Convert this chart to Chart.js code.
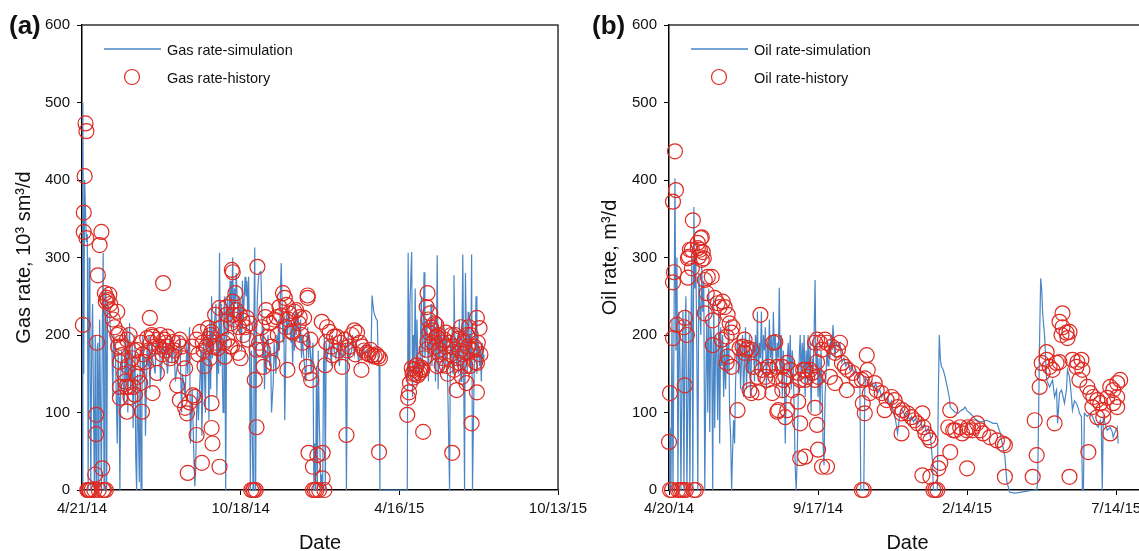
<!DOCTYPE html>
<html>
<head>
<meta charset="utf-8">
<script src="https://cdn.jsdelivr.net/npm/chart.js@4.4.1/dist/chart.umd.min.js"></script>
<style>
  html, body { margin: 0; padding: 0; background: #fff; overflow: hidden; width: 1139px; height: 551px; }
  #gasChart { position: absolute; left: 0; top: 0; }
  #oilChart { position: absolute; left: 590px; top: 0; }
</style>
</head>
<body>
<canvas id="gasChart" width="593" height="551"></canvas>
<canvas id="oilChart" width="600" height="551"></canvas>
<script>
// (a) gas rate, days since 4/21/14
const gasTickLabels = ['4/21/14', '10/18/14', '4/16/15', '10/13/15'];

const gasSimDays = [
  0,1,2,3,5,6,7,8,9,10,11,12,14,15,16,17,18,19,20,22,
  23,24,25,26,27,28,29,31,32,34,35,36,38,40,41,42,43,44,45,48,
  49,50,51,52,53,54,55,57,58,59,60,61,62,63,65,66,67,68,69,70,
  71,72,74,75,76,77,79,80,83,84,86,88,89,92,94,95,97,100,102,104,
  106,109,111,113,114,117,119,120,122,123,125,127,128,129,130,131,132,134,135,136,
  137,138,139,140,141,143,144,145,146,147,148,149,152,153,154,155,156,157,158,160,
  161,162,163,164,165,166,168,169,170,171,172,173,174,175,177,178,179,180,181,182,
  183,185,186,187,188,189,190,191,192,194,195,196,197,198,199,200,201,203,204,205,
  206,207,208,209,211,213,214,215,217,218,220,221,222,223,224,225,226,228,229,230,
  232,233,235,237,238,239,240,241,242,243,245,247,248,249,250,251,254,255,256,257,
  258,259,260,262,263,264,265,266,267,268,269,271,272,273,274,275,276,277,278,281,
  283,284,286,288,290,292,294,295,298,299,300,301,302,303,306,307,309,311,314,315,
  317,319,321,324,326,328,329,331,332,333,334,335,336,337,338,360,369,370,371,372,
  374,375,376,377,378,379,380,381,383,384,385,386,387,388,389,391,392,393,394,395,
  396,397,398,400,401,402,403,404,405,406,408,409,410,411,412,413,414,415,417,418,
  419,420,421,422,423,425,426,427,428,429,430,431,432,434,435,436,437,438,439,440,
  441,442,443,445,446,447,448,449,451,452,453,454,455,456
];
const gasSimRate = [
  0,500,150,400,320,330,0,300,200,0,180,240,0,200,0,180,190,0,220,0,
  200,306,0,250,260,0,240,230,210,180,120,200,170,60,180,120,0,150,180,110,
  200,140,210,100,170,215,130,190,80,160,200,40,0,150,10,180,0,120,200,150,
  170,70,190,160,200,130,190,170,150,190,180,200,140,185,175,190,150,200,165,190,
  140,170,200,100,150,120,190,150,210,60,130,40,5,30,100,130,90,150,180,70,
  130,200,150,100,210,180,90,220,130,250,170,200,240,120,200,150,306,160,240,100,
  230,250,0,190,250,200,270,210,250,300,200,260,240,280,220,250,200,240,180,270,
  220,275,250,270,230,275,200,0,180,0,220,313,0,200,250,270,280,282,230,170,
  210,130,180,150,200,160,180,100,140,190,150,200,170,220,180,250,293,190,220,90,
  240,200,230,190,210,160,220,180,240,200,230,190,220,170,200,180,140,190,210,170,
  200,180,150,190,0,60,0,160,0,180,100,0,20,0,160,200,0,190,170,190,
  160,200,180,170,190,160,200,170,180,190,0,160,200,170,180,200,175,190,165,180,
  170,185,175,180,165,180,251,230,226,223,220,219,170,160,0,0,0,306,150,240,
  307,120,200,170,260,150,220,170,140,200,250,150,200,281,170,220,190,140,200,180,
  240,160,200,220,140,180,303,130,200,170,220,150,190,210,160,200,180,130,0,200,
  170,210,150,277,190,160,200,150,220,170,140,190,304,0,280,200,150,230,170,200,
  150,304,0,160,190,250,150,200,160,180,140,190,170,175
];

const gasHistDays = [
  1,2,2,3,4,5,5,6,7,8,9,11,14,15,16,16,17,18,19,20,
  22,23,24,25,27,26,27,28,29,31,32,33,35,37,40,40,41,42,43,43,
  43,44,45,46,48,49,50,51,51,52,53,54,55,57,58,59,60,61,62,63,
  65,66,67,68,69,71,74,75,77,78,79,80,80,83,84,85,86,88,89,91,
  92,93,94,95,96,97,100,102,103,105,108,109,111,111,113,114,117,117,119,120,
  122,125,126,128,130,130,132,134,136,137,138,139,141,143,144,145,146,147,147,147,
  148,149,151,152,154,156,156,158,161,162,164,164,165,168,169,170,170,171,171,172,
  173,174,175,177,178,179,180,182,183,185,187,188,190,192,194,195,196,197,198,198,
  199,201,204,205,206,208,209,211,213,215,216,218,221,222,224,226,228,230,231,232,
  233,234,235,238,239,241,243,246,247,249,250,252,255,256,256,257,258,259,260,262,
  262,264,266,267,269,272,273,273,275,276,277,278,281,283,284,286,289,291,293,295,
  298,300,301,303,306,309,310,312,315,317,318,320,323,325,327,329,332,334,336,337,
  338,369,370,371,372,374,375,376,377,378,379,380,381,383,384,385,386,387,388,391,
  391,392,392,393,394,395,396,397,398,400,401,402,402,403,404,405,406,408,409,410,
  411,412,413,414,415,417,418,419,420,421,422,423,425,426,427,428,429,430,431,432,
  434,435,436,436,437,438,439,440,441,442,443,445,446,447,448,448,448,449,451,452
];
const gasHistRate = [
  213,333,358,405,473,463,325,0,0,0,0,0,0,20,97,72,190,277,0,316,
  333,28,0,0,0,254,243,248,245,252,240,232,220,210,200,230,185,202,165,133,
  119,190,174,185,150,140,133,101,194,160,133,200,120,170,133,180,123,150,181,146,
  165,138,190,101,175,165,196,180,222,190,200,125,198,185,170,151,194,185,200,175,
  267,194,180,190,185,198,170,174,191,180,135,190,194,116,185,170,157,106,99,22,
  113,185,122,120,194,71,175,204,35,190,180,160,185,209,195,170,200,204,112,80,
  60,185,226,190,183,235,30,210,190,172,236,226,194,185,215,185,284,281,243,226,
  220,254,232,177,210,226,170,219,200,210,222,194,215,0,0,0,142,0,81,181,
  288,190,210,181,159,223,232,198,215,185,164,220,223,200,236,225,254,248,210,239,
  155,220,228,205,203,230,232,215,223,200,190,222,159,251,248,48,151,194,142,30,
  0,0,0,45,0,217,48,15,0,161,191,210,204,185,174,198,198,180,190,159,
  194,71,180,185,200,206,175,203,190,155,185,180,177,175,181,174,172,175,172,49,
  170,97,119,126,138,157,150,145,155,150,160,161,148,151,155,158,155,75,170,181,
  236,191,254,220,203,228,210,206,190,215,185,198,213,160,200,181,175,161,190,170,
  194,185,203,160,150,190,175,200,48,185,155,200,129,170,195,164,180,210,146,175,
  190,160,177,138,200,185,210,160,200,86,180,185,165,181,222,164,126,190,209,175
];

// (b) oil rate, days since 4/20/14
const oilTickLabels = ['4/20/14', '9/17/14', '2/14/15', '7/14/15'];

const oilSimDays = [
  0,1,2,3,4,5,6,7,8,9,10,11,12,13,14,15,16,17,18,19,
  20,21,22,23,24,25,26,27,28,29,30,31,32,33,34,35,36,37,38,39,
  40,41,42,43,44,45,46,47,48,49,50,51,52,53,54,55,56,57,58,59,
  60,61,62,63,64,65,66,67,68,69,70,71,72,73,74,75,76,77,78,79,
  80,81,82,83,85,86,87,88,89,90,91,92,93,94,95,96,97,98,99,100,
  101,102,103,104,105,106,107,108,109,110,111,112,113,114,115,116,117,118,119,120,
  121,122,123,124,125,126,127,128,129,130,131,132,133,134,135,136,137,138,139,140,
  141,142,143,144,145,146,147,148,149,150,151,152,153,154,155,156,157,158,159,160,
  161,162,163,164,165,166,167,168,170,172,174,176,178,180,182,184,186,188,190,192,
  193,196,197,198,200,202,204,206,208,210,212,214,216,218,220,222,224,226,228,230,
  232,234,236,238,240,242,244,246,248,250,253,255,257,259,261,263,265,266,270,271,
  272,273,274,276,278,280,282,283,285,288,291,293,296,298,300,303,306,308,310,313,
  316,319,323,326,330,333,336,338,340,343,348,353,358,363,368,370,371,373,374,375,
  376,378,380,383,386,388,390,391,393,395,398,400,401,403,405,406,408,410,412,413,
  415,416,417,418,421,424,426,429,432,434,435,436,437,439,441,444,446,447,449,451,452
];
const oilSimRate = [
  0,80,0,220,0,200,402,180,300,0,230,170,0,140,230,0,200,250,0,120,
  230,0,200,300,0,365,260,300,180,0,280,240,200,290,230,270,0,130,220,100,
  260,75,210,190,0,250,80,200,180,90,230,60,210,160,200,120,180,130,190,150,
  220,100,70,0,50,90,60,140,170,200,150,190,130,170,200,120,160,210,130,180,
  150,200,120,170,190,140,200,160,230,140,190,170,230,150,200,180,210,130,190,160,
  220,170,200,140,230,180,200,150,190,170,261,150,200,120,180,150,60,130,170,190,
  150,200,130,180,160,100,30,0,40,120,170,200,140,190,160,200,120,180,150,200,
  140,190,100,170,150,200,271,150,190,120,170,100,180,140,60,32,120,150,180,160,
  190,170,200,180,213,190,170,190,185,190,165,170,160,165,155,160,150,155,145,150,
  0,0,130,145,140,135,140,130,138,125,130,120,125,115,120,110,115,100,90,73,
  95,105,100,95,100,90,95,88,92,85,90,80,85,75,80,70,40,0,0,120,
  200,170,160,155,145,133,120,107,104,100,99,102,104,107,102,99,95,92,90,88,
  88,90,88,86,86,75,56,43,10,-3,-4,-3,-2,-1,0,0,10,200,273,260,
  228,198,142,133,142,120,129,86,125,129,112,130,155,146,120,103,115,112,105,99,
  95,0,0,99,95,99,95,86,81,90,85,0,94,85,77,81,75,68,75,81,60
];

const oilHistDays = [
  0,1,1,3,4,4,4,5,6,7,8,9,11,13,15,15,16,16,17,18,
  19,19,20,21,23,23,24,25,27,29,29,30,31,32,33,33,34,35,36,36,
  38,39,43,44,44,46,49,51,53,54,56,58,58,59,59,61,63,63,64,69,
  71,74,76,76,78,79,81,83,83,85,89,90,92,94,97,99,100,102,104,105,
  107,107,109,109,110,114,114,115,117,117,119,119,122,124,130,130,132,132,132,135,
  137,137,137,139,142,144,147,147,147,149,149,149,150,150,152,154,154,157,159,159,
  162,164,167,167,170,172,174,177,179,180,185,189,194,194,196,195,197,197,199,200,
  202,207,209,214,217,219,224,227,230,234,234,235,240,244,247,250,255,255,256,258,
  261,263,263,266,268,270,271,273,281,283,283,286,288,293,295,300,300,301,305,306,
  310,313,316,323,330,336,338,338,366,368,370,373,375,376,380,380,383,386,388,390,
  393,393,395,396,396,400,401,403,403,406,410,411,413,415,416,421,422,424,426,427,
  431,431,434,437,437,441,444,444,447,447,451,451,451,454
];
const oilHistRate = [
  62,125,0,0,196,268,372,281,437,387,213,0,0,0,0,210,222,135,0,200,
  299,274,301,310,286,310,348,0,0,312,319,301,310,325,326,297,307,299,271,228,
  254,275,275,219,187,248,241,236,194,243,236,164,198,226,172,215,203,159,210,103,
  183,185,194,177,181,183,129,181,125,159,146,126,226,155,146,142,159,155,125,190,
  146,191,159,101,103,159,129,142,146,94,164,103,155,129,151,114,86,142,41,155,
  155,142,43,146,155,151,142,106,190,84,194,165,52,146,190,181,30,194,190,30,
  146,185,177,138,181,190,164,159,129,155,151,142,142,0,0,112,144,99,174,155,
  125,138,129,125,103,116,120,116,107,99,73,103,99,94,90,86,99,19,81,73,
  68,64,17,0,0,0,28,35,81,103,49,77,77,81,73,77,28,81,77,81,
  86,77,73,68,64,60,58,17,17,90,45,133,164,151,168,178,159,155,86,164,
  165,217,200,228,210,203,196,204,17,168,159,165,142,168,155,133,49,125,107,120,
  116,94,112,103,94,119,133,73,129,112,138,120,107,142
];

const RED = '#de2a22';
const BLUE = '#4a86c6';
Chart.defaults.font.family = "'Liberation Sans', Arial, sans-serif";
Chart.defaults.color = '#111';

function toPoints(days, rates) {
  return days.map((d, i) => ({ x: d, y: rates[i] }));
}

// frame, panel letter and the legend inside the plot
const panelDecor = {
  id: 'panelDecor',
  afterDraw(chart, args, opts) {
    const { ctx, chartArea: a } = chart;
    ctx.save();
    ctx.strokeStyle = '#333';
    ctx.lineWidth = 1.5;
    ctx.beginPath();
    ctx.moveTo(a.left, a.top);
    ctx.lineTo(a.right, a.top);
    ctx.lineTo(a.right, a.bottom);
    ctx.stroke();

    ctx.fillStyle = '#111';
    ctx.font = "bold 26px 'Liberation Sans', Arial, sans-serif";
    ctx.textBaseline = 'alphabetic';
    ctx.fillText(opts.letter, opts.letterX, 34);

    ctx.font = "14.5px 'Liberation Sans', Arial, sans-serif";
    ctx.textBaseline = 'middle';
    ctx.strokeStyle = BLUE;
    ctx.lineWidth = 1.5;
    ctx.beginPath();
    ctx.moveTo(a.left + 22, a.top + 24);
    ctx.lineTo(a.left + 79, a.top + 24);
    ctx.stroke();
    ctx.fillText(opts.simLabel, a.left + 85, a.top + 26);

    ctx.strokeStyle = RED;
    ctx.lineWidth = 1.2;
    ctx.beginPath();
    ctx.arc(a.left + 50, a.top + 52, 7.5, 0, Math.PI * 2);
    ctx.stroke();
    ctx.fillText(opts.histLabel, a.left + 85, a.top + 54);
    ctx.restore();
  }
};

function buildChart(id, o) {
  const ctx = document.getElementById(id).getContext('2d');
  return new Chart(ctx, {
    type: 'scatter',
    data: {
      datasets: [
        {
          label: o.histLabel,
          data: o.hist,
          pointRadius: 7.5,
          pointHoverRadius: 7.5,
          pointBorderWidth: 1.2,
          pointBorderColor: RED,
          pointBackgroundColor: 'rgba(0,0,0,0)',
          showLine: false,
          clip: false,
          order: 0
        },
        {
          label: o.simLabel,
          data: o.sim,
          showLine: true,
          pointRadius: 0,
          pointHoverRadius: 0,
          borderColor: BLUE,
          borderWidth: 1.2,
          clip: false,
          order: 1
        }
      ]
    },
    options: {
      responsive: false,
      animation: false,
      devicePixelRatio: 1,
      layout: { padding: { left: 0, top: 25, right: o.padRight, bottom: 0 } },
      plugins: {
        legend: { display: false },
        tooltip: { enabled: false },
        panelDecor: { letter: o.letter, letterX: o.letterX, simLabel: o.simLabel, histLabel: o.histLabel }
      },
      scales: {
        x: {
          type: 'linear',
          min: 0,
          max: o.xMax,
          afterBuildTicks: s => { s.ticks = o.tickLabels.map((_, i) => ({ value: i * o.step })); },
          afterFit: s => { s.height = 61; },
          ticks: {
            autoSkip: false,
            maxRotation: 0,
            padding: 5,
            font: { size: 15 },
            callback: (v, i) => o.tickLabels[i]
          },
          grid: { drawOnChartArea: false, drawTicks: true, tickLength: 5, color: '#000' },
          border: { color: '#000', width: 1.5 },
          title: { display: true, text: 'Date', font: { size: 20, lineHeight: 0.8 }, padding: 0 }
        },
        y: {
          min: 0,
          max: 600,
          afterFit: s => { s.width = o.yWidth; },
          ticks: { stepSize: 100, padding: 7, font: { size: 15 } },
          grid: { drawOnChartArea: false, drawTicks: true, tickLength: 5, color: '#000' },
          border: { color: '#000', width: 1.5 },
          title: { display: true, text: o.yTitle, font: { size: 20, lineHeight: 1.2 }, padding: { top: o.titlePad, bottom: 0 } }
        }
      }
    },
    plugins: [panelDecor]
  });
}

buildChart('gasChart', {
  letter: '(a)', letterX: 9,
  simLabel: 'Gas rate-simulation', histLabel: 'Gas rate-history',
  yTitle: 'Gas rate, 10³ sm³/d', titlePad: 12, yWidth: 82, padRight: 35,
  xMax: 540, step: 180, tickLabels: gasTickLabels,
  sim: toPoints(gasSimDays, gasSimRate),
  hist: toPoints(gasHistDays, gasHistRate)
});

buildChart('oilChart', {
  letter: '(b)', letterX: 2,
  simLabel: 'Oil rate-simulation', histLabel: 'Oil rate-history',
  yTitle: 'Oil rate, m³/d', titlePad: 8, yWidth: 79, padRight: 44,
  xMax: 480, step: 150, tickLabels: oilTickLabels,
  sim: toPoints(oilSimDays, oilSimRate),
  hist: toPoints(oilHistDays, oilHistRate)
});
</script>
</body>
</html>
